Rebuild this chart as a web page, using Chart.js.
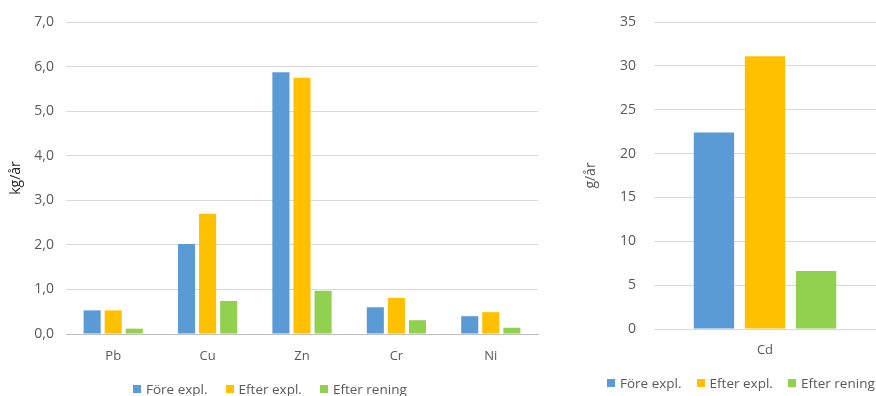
<!DOCTYPE html>
<html lang="sv">
<head>
<meta charset="UTF-8">
<title>Metaller kg/år och g/år</title>
<script src="https://cdn.jsdelivr.net/npm/chart.js"></script>
<style>
  body {
    margin: 0;
    padding: 0;
    background: #fff;
    width: 876px;
    height: 396px;
    position: relative;
    overflow: hidden;
    font-family: 'Open Sans', 'Noto Sans', sans-serif;
  }
  .box-left {
    position: absolute;
    left: 0;
    top: 0;
    width: 548px;
    height: 396px;
  }
  .box-right {
    position: absolute;
    left: 575px;
    top: 0;
    width: 301px;
    height: 396px;
  }
  .legend {
    position: absolute;
    display: flex;
    align-items: center;
    font-size: 13.5px;
    color: #595959;
    white-space: nowrap;
    height: 18px;
  }
  .legend span.item {
    display: inline-flex;
    align-items: center;
  }
  .legend i {
    display: inline-block;
    width: 8px;
    height: 8px;
    margin-right: 5px;
  }
</style>
</head>
<body>
<div class="box-left"><canvas id="kg-chart"></canvas></div>
<div class="box-right"><canvas id="g-chart"></canvas></div>
<div class="legend" id="legend-left" style="left:133px; top:380px;"></div>
<div class="legend" id="legend-right" style="left:607px; top:374px;"></div>
<script>
  // metaller i kg/år
  const metals = ['Pb', 'Cu', 'Zn', 'Cr', 'Ni'];
  const foreExpl = [0.53, 2.02, 5.87, 0.60, 0.40];
  const efterExpl = [0.53, 2.70, 5.75, 0.81, 0.49];
  const efterRening = [0.12, 0.74, 0.97, 0.31, 0.14];

  // kadmium i g/år
  const cdLabels = ['Cd'];
  const cdFore = [22.4];
  const cdEfter = [31.1];
  const cdRening = [6.6];

  const seriesNames = ['Före expl.', 'Efter expl.', 'Efter rening'];
  const colors = ['#5B9BD5', '#FFC000', '#92D050'];

  const fontFam = "'Open Sans', 'Noto Sans', sans-serif";
  const gray = '#595959';

  function makeDatasets(arrs, barPct, catPct) {
    return arrs.map((d, i) => ({
      label: seriesNames[i],
      data: d,
      backgroundColor: colors[i],
      borderWidth: 0,
      barPercentage: barPct,
      categoryPercentage: catPct
    }));
  }

  // html legend, same look for both charts
  function buildLegend(id, gap) {
    const el = document.getElementById(id);
    seriesNames.forEach((name, i) => {
      const item = document.createElement('span');
      item.className = 'item';
      if (i < seriesNames.length - 1) item.style.marginRight = gap + 'px';
      item.innerHTML = '<i style="background:' + colors[i] + '"></i>' + name;
      el.appendChild(item);
    });
  }
  buildLegend('legend-left', 18);
  buildLegend('legend-right', 15);

  // left chart
  new Chart(document.getElementById('kg-chart'), {
    type: 'bar',
    data: {
      labels: metals,
      datasets: makeDatasets([foreExpl, efterExpl, efterRening], 0.81, 0.67)
    },
    options: {
      responsive: true,
      maintainAspectRatio: false,
      animation: false,
      layout: { padding: { top: 22, right: 10, left: 4, bottom: 26 } },
      plugins: {
        legend: { display: false },
        tooltip: { enabled: false }
      },
      scales: {
        x: {
          grid: { display: false },
          border: { color: '#BFBFBF', width: 1 },
          ticks: { color: gray, font: { family: fontFam, size: 13 }, padding: 6 },
          afterFit: (s) => { s.height = 36; }
        },
        y: {
          min: 0,
          max: 7,
          border: { display: false },
          grid: { color: '#D9D9D9', drawTicks: false },
          ticks: {
            stepSize: 1,
            color: gray,
            font: { family: fontFam, size: 14 },
            padding: 12,
            callback: (v) => v.toFixed(1).replace('.', ',')
          },
          title: {
            display: true,
            text: 'kg/år',
            color: '#262626',
            font: { family: fontFam, size: 14 }
          },
          afterFit: (s) => { s.width = 62; }
        }
      }
    }
  });

  // right chart
  new Chart(document.getElementById('g-chart'), {
    type: 'bar',
    data: {
      labels: cdLabels,
      datasets: makeDatasets([cdFore, cdEfter, cdRening], 0.79, 0.69)
    },
    options: {
      responsive: true,
      maintainAspectRatio: false,
      animation: false,
      layout: { padding: { top: 22, right: 0, left: 4, bottom: 31 } },
      plugins: {
        legend: { display: false },
        tooltip: { enabled: false }
      },
      scales: {
        x: {
          grid: { display: false },
          border: { color: '#D9D9D9', width: 1 },
          ticks: { color: gray, font: { family: fontFam, size: 13 }, padding: 5 },
          afterFit: (s) => { s.height = 36; }
        },
        y: {
          min: 0,
          max: 35,
          border: { display: false },
          // invisible tick marks push labels left without adding top padding
          grid: { color: '#D9D9D9', drawTicks: true, tickLength: 6, tickColor: 'rgba(0,0,0,0)' },
          ticks: {
            stepSize: 5,
            color: gray,
            font: { family: fontFam, size: 14 },
            padding: 12
          },
          title: {
            display: true,
            text: 'g/år',
            color: gray,
            font: { family: fontFam, size: 14 }
          },
          afterFit: (s) => { s.width = 75; }
        }
      }
    }
  });
</script>
</body>
</html>
